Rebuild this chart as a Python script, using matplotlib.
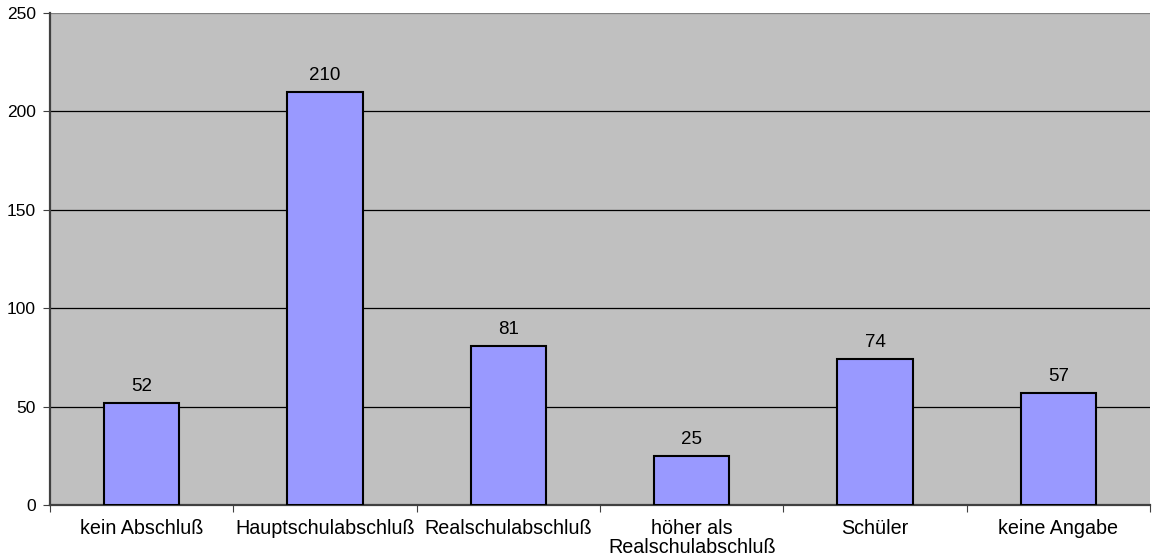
import matplotlib
matplotlib.use("Agg")
import matplotlib.pyplot as plt

plt.rcParams["font.family"] = ["Liberation Sans", "DejaVu Sans"]

categories = ["kein Abschluß", "Hauptschulabschluß", "Realschulabschluß",
              "höher als\nRealschulabschluß", "Schüler", "keine Angabe"]
values = [52, 210, 81, 25, 74, 57]
y_ticks = [0, 50, 100, 150, 200, 250]

fs = 14.2

fig = plt.figure(figsize=(11.61, 5.56), dpi=100)
ax = fig.add_axes([50 / 1161, 1 - 505 / 556, 1100 / 1161, 492 / 556])
ax.set_facecolor("#C0C0C0")

x = list(range(len(categories)))
bars = ax.bar(x, values, width=0.41, color="#9999FF", edgecolor="black", linewidth=1.5, zorder=3)
for xi, v in zip(x, values):
    ax.text(xi, v + 4, str(v), ha="center", va="bottom", fontsize=13.5, zorder=4)

ax.set_ylim(0, 250)
ax.set_xlim(-0.5, len(categories) - 0.5)
ax.set_yticks(y_ticks)
ax.set_yticklabels([str(t) for t in y_ticks], fontsize=12.5)
for t in y_ticks[1:-1]:
    ax.axhline(t, color="black", linewidth=0.9, zorder=1)
ax.axhline(250, color="#808080", linewidth=0.9, zorder=1)

# category labels between boundary ticks
ax.set_xticks([i - 0.5 for i in range(len(categories) + 1)])
ax.set_xticklabels([])
ax.set_xticks(x, minor=True)
ax.set_xticklabels(categories, minor=True, fontsize=fs, linespacing=1.0)
ax.tick_params(axis="x", which="minor", length=0, pad=10)
ax.tick_params(axis="x", which="major", length=5, direction="out", color="#404040")
ax.tick_params(axis="y", length=5, direction="out", color="#404040", pad=5)

for s in ["top", "right"]:
    ax.spines[s].set_visible(False)
ax.spines["left"].set_color("#404040")
ax.spines["left"].set_linewidth(1.6)
ax.spines["bottom"].set_color("#404040")
ax.spines["bottom"].set_linewidth(1.6)

fig.savefig("out.png", dpi=100, facecolor="white")
